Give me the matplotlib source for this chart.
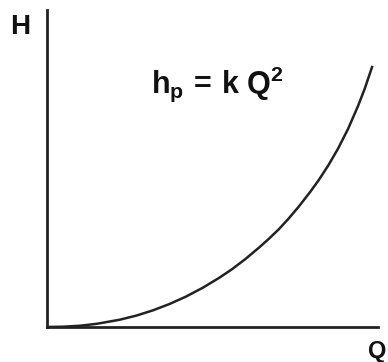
import numpy as np
import matplotlib
matplotlib.use("Agg")
import matplotlib.pyplot as plt

# flow Q and head loss H, both on a 0-100 scale
Q = [0, 5, 10, 15, 22, 27, 32, 37, 42, 47, 52, 56, 60, 64, 67, 70,
     73, 76, 79.5, 82, 85, 88, 91, 94, 96, 98.2]
H = [0, 0.1, 0.4, 1.0, 2.3, 3.6, 5.25, 7.25, 9.6, 12.35, 15.5, 18.3, 21.5, 25.0, 27.8, 30.8,
     34.2, 37.9, 42.6, 46.2, 51.0, 56.4, 62.6, 69.8, 75.2, 82.0]

plt.rcParams['mathtext.fontset'] = 'custom'
plt.rcParams['mathtext.rm'] = 'Liberation Sans:bold'
plt.rcParams['mathtext.it'] = 'Liberation Sans:bold'
plt.rcParams['mathtext.bf'] = 'Liberation Sans:bold'

fig = plt.figure(figsize=(3.88, 3.62), dpi=100)
ax = fig.add_axes([47/388, 35/362, 331/388, 317/362])

ax.plot(Q, H, color="#222222", lw=1.8, solid_joinstyle="round")

ax.set_xlim(0, 100)
ax.set_ylim(0, 100)
ax.set_xticks([])
ax.set_yticks([])
for s in ["top", "right"]:
    ax.spines[s].set_visible(False)
for s in ["left", "bottom"]:
    ax.spines[s].set_color("#222222")
    ax.spines[s].set_linewidth(2)

# axis names and the loss formula
fig.text(20/388, 1 - 27/362, "H", ha="center", va="center",
         fontsize=20, fontweight="bold", family="Liberation Sans", color="#111111")
fig.text(386/388, 1 - 358/362, "Q", ha="right", va="baseline",
         fontsize=17, fontweight="bold", family="Liberation Sans", color="#111111")
fig.text(151/388, 1 - 93/362, r"$\mathrm{h_p\,=\,k\;Q^2}$", ha="left", va="baseline",
         fontsize=22, color="#111111")

fig.savefig("out.png", dpi=100)
